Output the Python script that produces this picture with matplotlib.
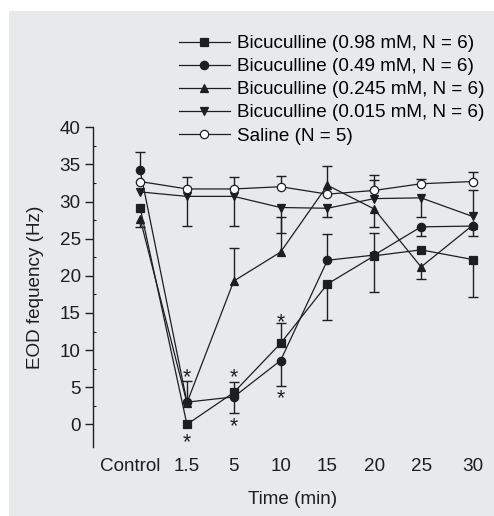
import numpy as np
import matplotlib
matplotlib.use('Agg')
import matplotlib.pyplot as plt
from matplotlib.patches import Rectangle
import matplotlib.transforms as mtrans

plt.rcParams['font.family'] = ['Liberation Sans', 'DejaVu Sans']

# Category axis
times = ['Control', '1.5', '5', '10', '15', '20', '25', '30']
xpos = np.array([0, 1, 2, 3, 4, 5, 6, 7.1])

# Mean EOD frequency (Hz) per group
bic_098 = np.array([29.2, 0.0, 4.3, 10.9, 18.9, 22.7, 23.5, 22.2])
bic_049 = np.array([34.2, 3.0, 3.7, 8.6, 22.1, 22.8, 26.6, 26.7])
bic_0245 = np.array([27.7, 2.9, 19.3, 23.2, 32.2, 29.0, 21.2, 26.8])
bic_0015 = np.array([31.3, 30.7, 30.7, 29.2, 29.1, 30.4, 30.5, 28.0])
saline = np.array([32.7, 31.7, 31.7, 32.0, 31.0, 31.5, 32.4, 32.7])

# Visible error bar halves (lower, upper)
err_098 = (np.array([0, 0, 0, 0, 4.8, 4.9, 0, 5.1]),
           np.array([0, 0, 0, 2.8, 0, 0, 0, 0]))
err_049 = (np.array([0, 0, 2.1, 3.4, 0, 0, 1.2, 0]),
           np.array([2.5, 0, 2.0, 0, 3.5, 3.0, 0, 0]))
err_0245 = (np.array([1.1, 0, 0, 0, 0, 2.4, 1.6, 1.4]),
            np.array([0, 3.0, 4.5, 4.7, 2.6, 0, 0, 0]))
err_0015 = (np.array([0, 4.0, 4.0, 3.4, 1.2, 0, 2.6, 0]),
            np.array([0, 0, 0, 0, 0, 2.5, 0, 3.5]))
err_sal = (np.array([0, 0, 0, 0, 0, 0, 0, 0]),
           np.array([0, 1.6, 1.6, 1.4, 0, 2.1, 0.6, 1.3]))

labels = ['Bicuculline (0.98 mM, N = 6)', 'Bicuculline (0.49 mM, N = 6)',
          'Bicuculline (0.245 mM, N = 6)', 'Bicuculline (0.015 mM, N = 6)',
          'Saline (N = 5)']

# significance stars: (time index, y value)
star_idx = [1, 1, 2, 2, 3, 3]
star_y = [7.0, -1.8, 6.9, 0.4, 14.4, 4.1]

ink = '#1e1e1e'
bg = '#e8e9eb'
fs = 13.6

fig = plt.figure(figsize=(4.94, 5.16), dpi=100)
fig.patches.append(Rectangle((9 / 494, 0), 1, 1 - 11 / 516, transform=fig.transFigure,
                             facecolor=bg, edgecolor='none', zorder=-10))
ax = fig.add_axes([93.3 / 494, 1 - 446.7 / 516, 398 / 494, (446.7 - 127.3) / 516])
ax.set_facecolor('none')


def draw_err(y, err):
    lo, hi = err
    for part, sign in ((lo, -1), (hi, 1)):
        m = part > 0
        ends = y[m] + sign * part[m]
        ax.vlines(xpos[m], y[m], ends, color=ink, lw=1.0, zorder=2)
        ax.plot(xpos[m], ends, ls='none', marker='_', ms=7, mew=1.0, color=ink, zorder=2)


series = [(bic_098, err_098, 's', ink), (bic_049, err_049, 'o', ink),
          (bic_0245, err_0245, '^', ink), (bic_0015, err_0015, 'v', ink),
          (saline, err_sal, 'o', 'white')]

for (y, err, mk, fc), lab in zip(series, labels):
    draw_err(y, err)
    ax.plot(xpos, y, color=ink, lw=0.9, marker=mk, ms=6 if mk != 's' else 5.5,
            mfc=fc, mec=ink, mew=0.9, label=lab, zorder=3, clip_on=False)

# asterisk glyph sits high in its box, nudge it down a few pixels
star_tr = ax.transData + mtrans.ScaledTranslation(0, -5 / 100, fig.dpi_scale_trans)
for i, sy in zip(star_idx, star_y):
    ax.text(xpos[i], sy, '*', ha='center', va='center', fontsize=15.5, color=ink,
            transform=star_tr)

ax.set_xlim(-1.0, 7.5)
ax.set_ylim(-3, 40)
ax.set_yticks(np.arange(0, 41, 5))
ax.set_yticks(np.arange(0, 40.1, 2.5), minor=True)
ax.tick_params(axis='y', which='major', direction='out', length=6, width=1.0,
               labelsize=fs, pad=3, colors=ink)
ax.tick_params(axis='y', which='minor', direction='in', length=2.5, width=0.8, colors=ink)
ax.set_xticks(xpos)
ax.set_xticklabels(times)
ax.tick_params(axis='x', length=0, labelsize=fs, pad=8, colors=ink)
lab0 = ax.get_xticklabels()[0]
lab0.set_transform(lab0.get_transform() + mtrans.ScaledTranslation(-10 / 100, 0, fig.dpi_scale_trans))
for sp in ['top', 'right', 'bottom']:
    ax.spines[sp].set_visible(False)
ax.spines['left'].set_color(ink)
ax.spines['left'].set_linewidth(1.0)

ax.set_xlabel('Time (min)', fontsize=fs, labelpad=12, color=ink)
ax.set_ylabel('EOD fequency (Hz)', fontsize=fs, labelpad=11, color=ink)

ax.legend(loc='lower right', bbox_to_anchor=(0.982, 0.946), bbox_transform=ax.transAxes,
          frameon=False, fontsize=fs, handlelength=2.7, handletextpad=0.37,
          labelspacing=0.31, borderaxespad=0.0, borderpad=0.0)

fig.savefig('out.png', dpi=100, facecolor='white')
